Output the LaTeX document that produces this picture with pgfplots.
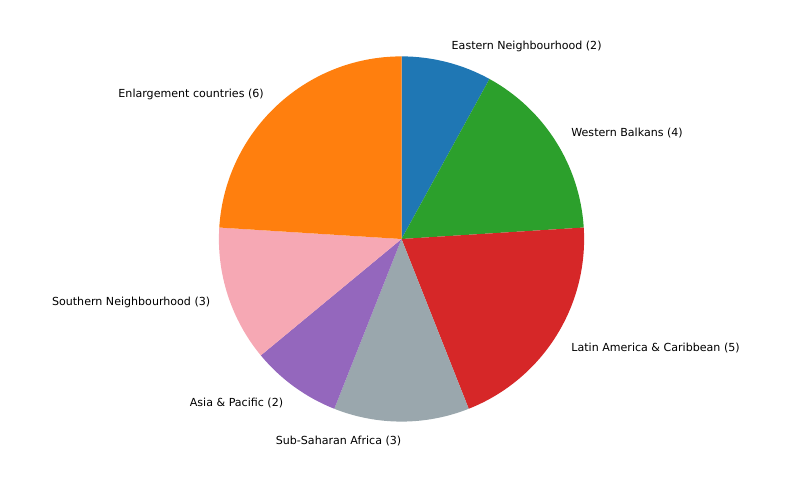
\documentclass[border=0pt]{standalone}
\usepackage{fontspec}
\setmainfont{DejaVu Sans}
\usepackage{pgfplots}
\usepackage{pgfplotstable}
\pgfplotsset{compat=1.18}

\definecolor{tabblue}{HTML}{1F77B4}
\definecolor{taborange}{HTML}{FF7F0E}
\definecolor{tabgreen}{HTML}{2CA02C}
\definecolor{tabred}{HTML}{D62728}
\definecolor{tabpurple}{HTML}{9467BD}
\definecolor{slategray}{HTML}{9AA7AD}
\definecolor{softpink}{HTML}{F6A8B4}

% slices, clockwise from 12 o'clock
\pgfplotstableread[col sep=comma]{
value,color,label
2,tabblue,Eastern Neighbourhood (2)
4,tabgreen,Western Balkans (4)
5,tabred,Latin America \& Caribbean (5)
3,slategray,Sub-Saharan Africa (3)
2,tabpurple,Asia \& Pacific (2)
3,softpink,Southern Neighbourhood (3)
6,taborange,Enlargement countries (6)
}\piedata

\begin{document}
\begin{tikzpicture}
\begin{axis}[
    x=0.01in, y=0.01in,
    xmin=0, xmax=800, ymin=0, ymax=479,
    hide axis, clip=false,
]
\pgfplotsextra{
  \path (axis cs:0,0) rectangle (axis cs:800,479);
  \pgfplotstablegetrowsof{\piedata}
  \pgfmathtruncatemacro{\lastrow}{\pgfplotsretval-1}
  \xdef\total{0}
  \foreach \i in {0,...,\lastrow} {
    \pgfplotstablegetelem{\i}{value}\of{\piedata}
    \pgfmathsetmacro{\t}{\total+\pgfplotsretval}
    \xdef\total{\t}
  }
  \xdef\cum{0}
  \foreach \i in {0,...,\lastrow} {
    \pgfplotstablegetelem{\i}{value}\of{\piedata}\let\v\pgfplotsretval
    \pgfplotstablegetelem{\i}{color}\of{\piedata}\let\c\pgfplotsretval
    \pgfplotstablegetelem{\i}{label}\of{\piedata}\let\l\pgfplotsretval
    \pgfmathsetmacro{\a}{90-360*\cum/\total}
    \pgfmathsetmacro{\b}{90-360*(\cum+\v)/\total}
    \pgfmathsetmacro{\m}{(\a+\b)/2}
    \fill[\c] (axis cs:401.5,240) -- ++(\a:1.825in)
      arc[start angle=\a, end angle=\b, radius=1.825in] -- cycle;
    \pgfmathparse{cos(\m)>0 ? 1 : 0}
    \ifdim\pgfmathresult pt>0.5pt \def\anc{west}\else\def\anc{east}\fi
    \path (axis cs:401.5,240) ++(\m:2.0075in) ++(0,-0.015in)
      node[anchor=\anc, inner sep=0pt, font=\fontsize{8}{10}\selectfont] {\l};
    \pgfmathsetmacro{\t}{\cum+\v}
    \xdef\cum{\t}
  }
}
\end{axis}
\end{tikzpicture}
\end{document}
